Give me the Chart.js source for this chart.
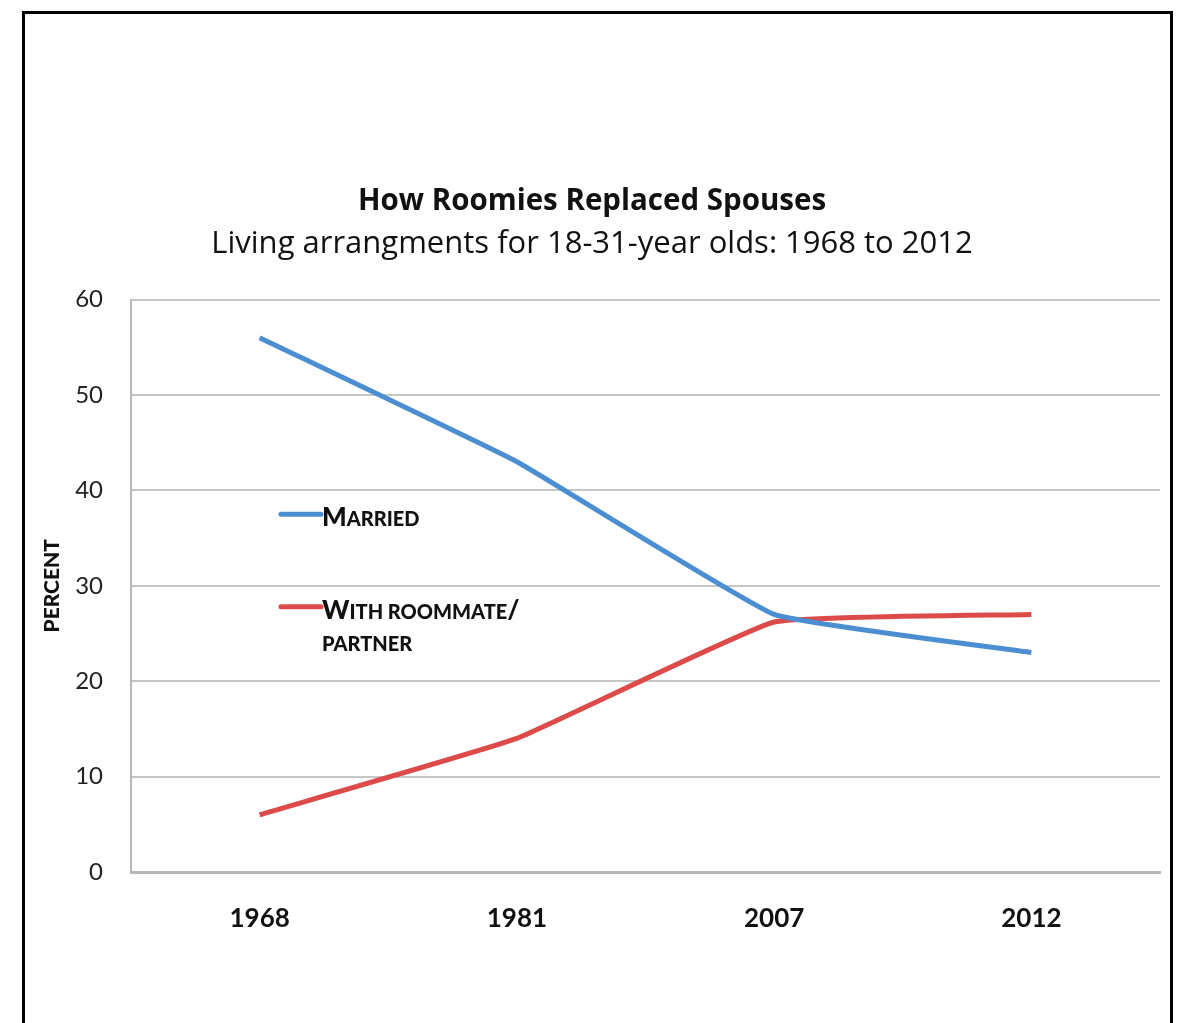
<!DOCTYPE html>
<html>
<head>
<meta charset="utf-8">
<title>How Roomies Replaced Spouses</title>
<script src="https://cdn.jsdelivr.net/npm/chart.js@4.4.0/dist/chart.umd.min.js"></script>
<style>
  html, body { margin: 0; padding: 0; background: #fff; }
  #wrap { width: 1179px; height: 1023px; }
</style>
</head>
<body>
<div id="wrap"><canvas id="myChart" width="1179" height="1023"></canvas></div>
<script>
// Survey years and shares of 18-31 year olds (percent)
const years = ['1968', '1981', '2007', '2012'];
const married = [56, 43, 27, 23];
const roommate = [6, 14, 26.2, 27];
const yTicks = [0, 10, 20, 30, 40, 50, 60];

const titleText = 'How Roomies Replaced Spouses';
const subtitleText = 'Living arrangments for 18-31-year olds: 1968 to 2012';

const blue = '#4b8fd2';
const red = '#dc4a4a';
const fontFamily = 'Lato, "Open Sans", sans-serif';
const titleFamily = '"Open Sans", Lato, sans-serif';

// Inline series labels, drawn in small caps next to a short line sample
const seriesLabels = [
  { color: blue, value: 37.5, lines: [['M', 'ARRIED']] },
  { color: red, value: 27.8, lines: [['W', 'ITH ROOMMATE', '/'], ['', 'PARTNER']] }
];

const canvas = document.getElementById('myChart');
const ctx = canvas.getContext('2d');

// Draws alternating big/small parts so the label looks like small caps
function drawSmallCaps(c, parts, x, y) {
  let cx = x;
  parts.forEach((p, i) => {
    const big = i % 2 === 0;
    c.font = '900 ' + (big ? 26 : 20) + 'px ' + fontFamily;
    c.fillText(p, cx, y);
    cx += c.measureText(p).width;
  });
}

const framePlugin = {
  id: 'frame',
  beforeDraw(chart) {
    const c = chart.ctx;
    c.save();
    c.fillStyle = '#fff';
    c.fillRect(0, 0, chart.width, chart.height);
    c.strokeStyle = '#000';
    c.lineWidth = 3;
    c.strokeRect(23.5, 12.5, 1148, 1100);
    c.restore();
  },
  afterDatasetsDraw(chart) {
    const c = chart.ctx;
    const y = chart.scales.y;
    const left = chart.chartArea.left + 148;
    c.save();
    c.textBaseline = 'alphabetic';
    c.fillStyle = '#111';
    seriesLabels.forEach(item => {
      const ly = y.getPixelForValue(item.value);
      c.strokeStyle = item.color;
      c.lineWidth = 5;
      c.lineCap = 'round';
      c.beginPath();
      c.moveTo(left + 2, ly);
      c.lineTo(left + 42, ly);
      c.stroke();
      item.lines.forEach((parts, i) => {
        drawSmallCaps(c, parts, left + 43, ly + 12 + i * 32);
      });
    });
    c.restore();
  }
};

const myChart = new Chart(ctx, {
  type: 'line',
  data: {
    labels: years,
    datasets: [{
      label: 'Married',
      data: married,
      borderColor: blue,
      borderWidth: 5,
      pointRadius: 0,
      tension: 0.1
    }, {
      label: 'With roommate/partner',
      data: roommate,
      borderColor: red,
      borderWidth: 5,
      pointRadius: 0,
      tension: 0.1
    }]
  },
  options: {
    responsive: false,
    animation: false,
    layout: { padding: { top: 184, right: 19, bottom: 70, left: 24 } },
    plugins: {
      legend: { display: false },
      tooltip: { enabled: false },
      title: {
        display: true,
        text: titleText,
        color: '#111',
        font: { family: titleFamily, size: 29.5, weight: 'bold' },
        padding: { top: 0, bottom: 6 }
      },
      subtitle: {
        display: true,
        text: subtitleText,
        color: '#111',
        font: { family: titleFamily, size: 31 },
        padding: { top: 0, bottom: 37 }
      }
    },
    scales: {
      x: {
        offset: true,
        grid: { display: false },
        border: { color: '#b8b8b8', width: 3 },
        ticks: {
          color: '#111',
          padding: 23,
          font: { family: fontFamily, size: 26, weight: 'bold' }
        },
        afterFit(scale) { scale.height = 81; }
      },
      y: {
        min: 0,
        max: 60,
        afterBuildTicks(scale) { scale.ticks = yTicks.map(v => ({ value: v })); },
        grid: { color: '#c6c6c6', lineWidth: 2, drawTicks: false },
        border: { color: '#b8b8b8', width: 2 },
        ticks: {
          color: '#222',
          padding: 28,
          font: { family: fontFamily, size: 24 }
        },
        title: {
          display: true,
          text: 'PERCENT',
          color: '#111',
          font: { family: fontFamily, size: 21, weight: '900' },
          padding: { top: 16, bottom: 0 }
        },
        afterFit(scale) { scale.width = 107; }
      }
    }
  },
  plugins: [framePlugin]
});
</script>
</body>
</html>
